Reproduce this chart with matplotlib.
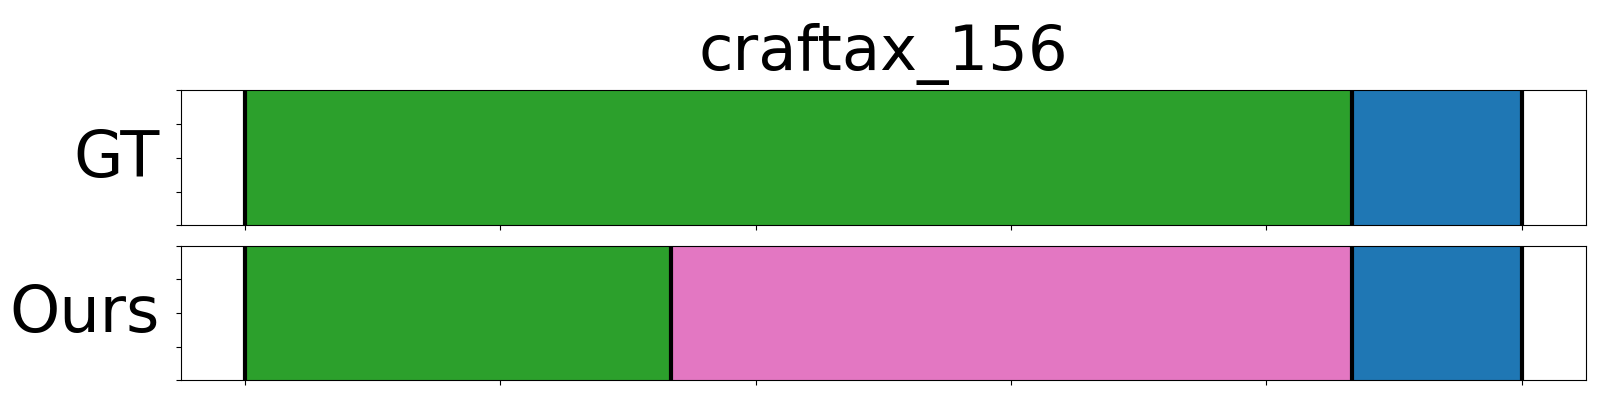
import matplotlib
matplotlib.use("Agg")
import matplotlib.pyplot as plt
import numpy as np

title = "craftax_156"
row_labels = ["GT", "Ours"]
total_len = 30

# segments per row: (start, end, colour)
gt_starts = [0, 26]
gt_ends = [26, 30]
gt_colors = ["#2ca02c", "#1f77b4"]

ours_starts = [0, 10, 26]
ours_ends = [10, 26, 30]
ours_colors = ["#2ca02c", "#e377c2", "#1f77b4"]

rows = [
    (gt_starts, gt_ends, gt_colors),
    (ours_starts, ours_ends, ours_colors),
]

fig = plt.figure(figsize=(16, 4), dpi=100)
positions = [
    [0.1133, 0.437, 0.8777, 0.337],
    [0.1133, 0.049, 0.8777, 0.337],
]

for i, (starts, ends, colors) in enumerate(rows):
    ax = fig.add_axes(positions[i])
    for s, e, c in zip(starts, ends, colors):
        ax.axvspan(s, e, ymin=0, ymax=1, color=c, lw=0)
    bounds = sorted(set(starts) | set(ends))
    for b in bounds:
        ax.axvline(b, color="black", lw=3)
    ax.set_xlim(-0.05 * total_len, 1.05 * total_len)
    ax.set_ylim(0, 1)
    ax.set_xticks(np.linspace(0, total_len, 6))
    ax.set_yticks([0, 0.25, 0.5, 0.75, 1])
    ax.set_xticklabels([])
    ax.set_yticklabels([])
    ax.set_ylabel(row_labels[i], fontsize=46, rotation=0, ha="right",
                  va="center")
    ax.yaxis.set_label_coords(-0.015, 0.49)
    if i == 0:
        ax.set_title(title, fontsize=45, pad=15)

fig.savefig("out.png", dpi=100)
